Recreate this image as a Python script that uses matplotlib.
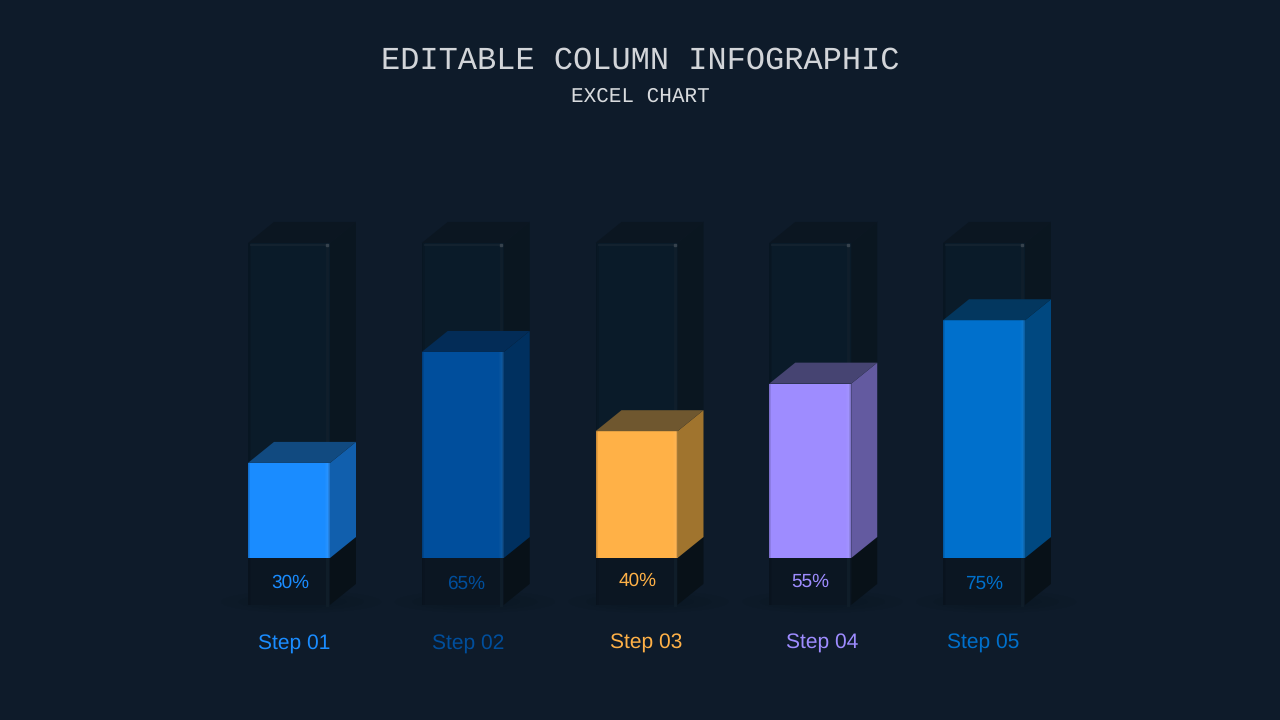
import matplotlib
matplotlib.use('Agg')
import matplotlib.pyplot as plt
from matplotlib.patches import Polygon, Ellipse

plt.rcParams['text.hinting'] = 'no_hinting'
plt.rcParams['text.hinting_factor'] = 1

# --- Data ---
steps = ['Step 01', 'Step 02', 'Step 03', 'Step 04', 'Step 05']
values = [30, 65, 40, 55, 75]
pct_labels = ['30%', '65%', '40%', '55%', '75%']
colors = ['#1A8CFF', '#004E9C', '#FFB147', '#9E8CFF', '#0070CC']
side_colors = ['#115FAD', '#00305F', '#A0742E', '#635AA0', '#004880']
top_colors = ['#114A80', '#032C57', '#6F572F', '#464472', '#03375F']

# label centres, in pixels
step_x = [294, 468, 646, 822, 983]
step_y = [643, 643, 642, 642, 642]
pct_x = [290, 466, 638, 810, 984]
pct_y = [582, 583, 580, 581, 583]

BG = '#0E1B2A'
PX_X = 173.75   # pixels per column
PX_Y = 3.17     # pixels per percent
width = 82 / PX_X
dx = 26 / PX_X
dy = 21 / PX_Y
ghost_top = 99.4
ghost_base = -14.8

fig = plt.figure(figsize=(12.8, 7.2), dpi=100, facecolor=BG)
ax = fig.add_axes([0, 0, 1, 1])
ax.set_facecolor(BG)
ax.set_xlim(-289 / PX_X, (1280 - 289) / PX_X)
ax.set_ylim((558 - 720) / PX_Y, 558 / PX_Y)
ax.axis('off')


def side_face(x, y0, y1, color, z):
    r = x + width / 2
    ax.add_patch(Polygon([(r, y0), (r + dx, y0 + dy), (r + dx, y1 + dy), (r, y1)],
                         closed=True, fc=color, ec='none', zorder=z))


def top_face(x, y, color, z):
    l, r = x - width / 2, x + width / 2
    ax.add_patch(Polygon([(l, y), (r, y), (r + dx, y + dy), (l + dx, y + dy)],
                         closed=True, fc=color, ec='none', zorder=z))


def edge_strips(x, y0, y1, color, z, alpha, px_list, right=True, left=True):
    # soft vertical strips along the sides of a front face
    h = y1 - y0
    for px in px_list:
        w = px / PX_X
        if left:
            ax.bar(x - width / 2 + w / 2, h, w, y0, color=color, alpha=alpha, zorder=z)
        if right:
            ax.bar(x + width / 2 - w / 2, h, w, y0, color=color, alpha=alpha, zorder=z)


for i, v in enumerate(values):
    # floor shadow
    for k in range(3):
        ax.add_patch(Ellipse((i + 0.07, ghost_base + 1), (160 - k * 35) / PX_X, (22 - k * 5) / PX_Y,
                             fc='#0A1622', ec='none', alpha=0.2, zorder=1))

    # empty glass column
    ax.bar(i, ghost_top, width, 0, color='#0A1B29', zorder=2)
    ax.bar(i, ghost_base, width, 0, color='#0B1622', zorder=2)
    side_face(i, 0, ghost_top, '#0A1620', 2)
    side_face(i, ghost_base, 0, '#081118', 3)
    top_face(i, ghost_top, '#0B1621', 2)
    edge_strips(i, ghost_base, ghost_top, '#08121C', 3, 0.25, [1.5, 3], right=False)
    # faint highlights on the glass
    r = i + width / 2 - 3 / PX_X
    ax.plot([i - width / 2 + 3 / PX_X, r], [ghost_top - 0.6] * 2, color='#162431', lw=1.2, zorder=3)
    ax.plot([r, r], [ghost_base, ghost_top - 0.6], color='#12202C', lw=2, alpha=0.8, zorder=3)
    ax.plot([r], [ghost_top - 0.6], 's', ms=1.8, color='#36424D', zorder=4)

    # filled part
    ax.bar(i, v, width, 0, color=colors[i], zorder=5)
    side_face(i, 0, v, side_colors[i], 5)
    top_face(i, v, top_colors[i], 5)
    edge_strips(i, 0, v, '#FFFFFF', 6, 0.02, [2, 3, 4, 5], left=False)
    edge_strips(i, 0, v, '#000000', 6, 0.10, [1, 2], left=True)

for i in range(len(steps)):
    fig.text(pct_x[i] / 1280, 1 - (pct_y[i] + 1) / 720, pct_labels[i], color=colors[i],
             ha='center', va='center', fontsize=14, family='Liberation Sans')
    fig.text(step_x[i] / 1280, 1 - (step_y[i] + 1) / 720, steps[i], color=colors[i],
             ha='center', va='center', fontsize=15.2, family='Liberation Sans')

fig.text(0.5, 1 - 60 / 720, 'EDITABLE COLUMN INFOGRAPHIC', color='#D2D5D9',
         ha='center', va='center', fontsize=22.9, family='Liberation Mono')
fig.text(0.5, 1 - 96.5 / 720, 'EXCEL CHART', color='#D8DBDE',
         ha='center', va='center', fontsize=15.4, family='Liberation Mono')

fig.savefig('out.png', dpi=100, facecolor=BG)
